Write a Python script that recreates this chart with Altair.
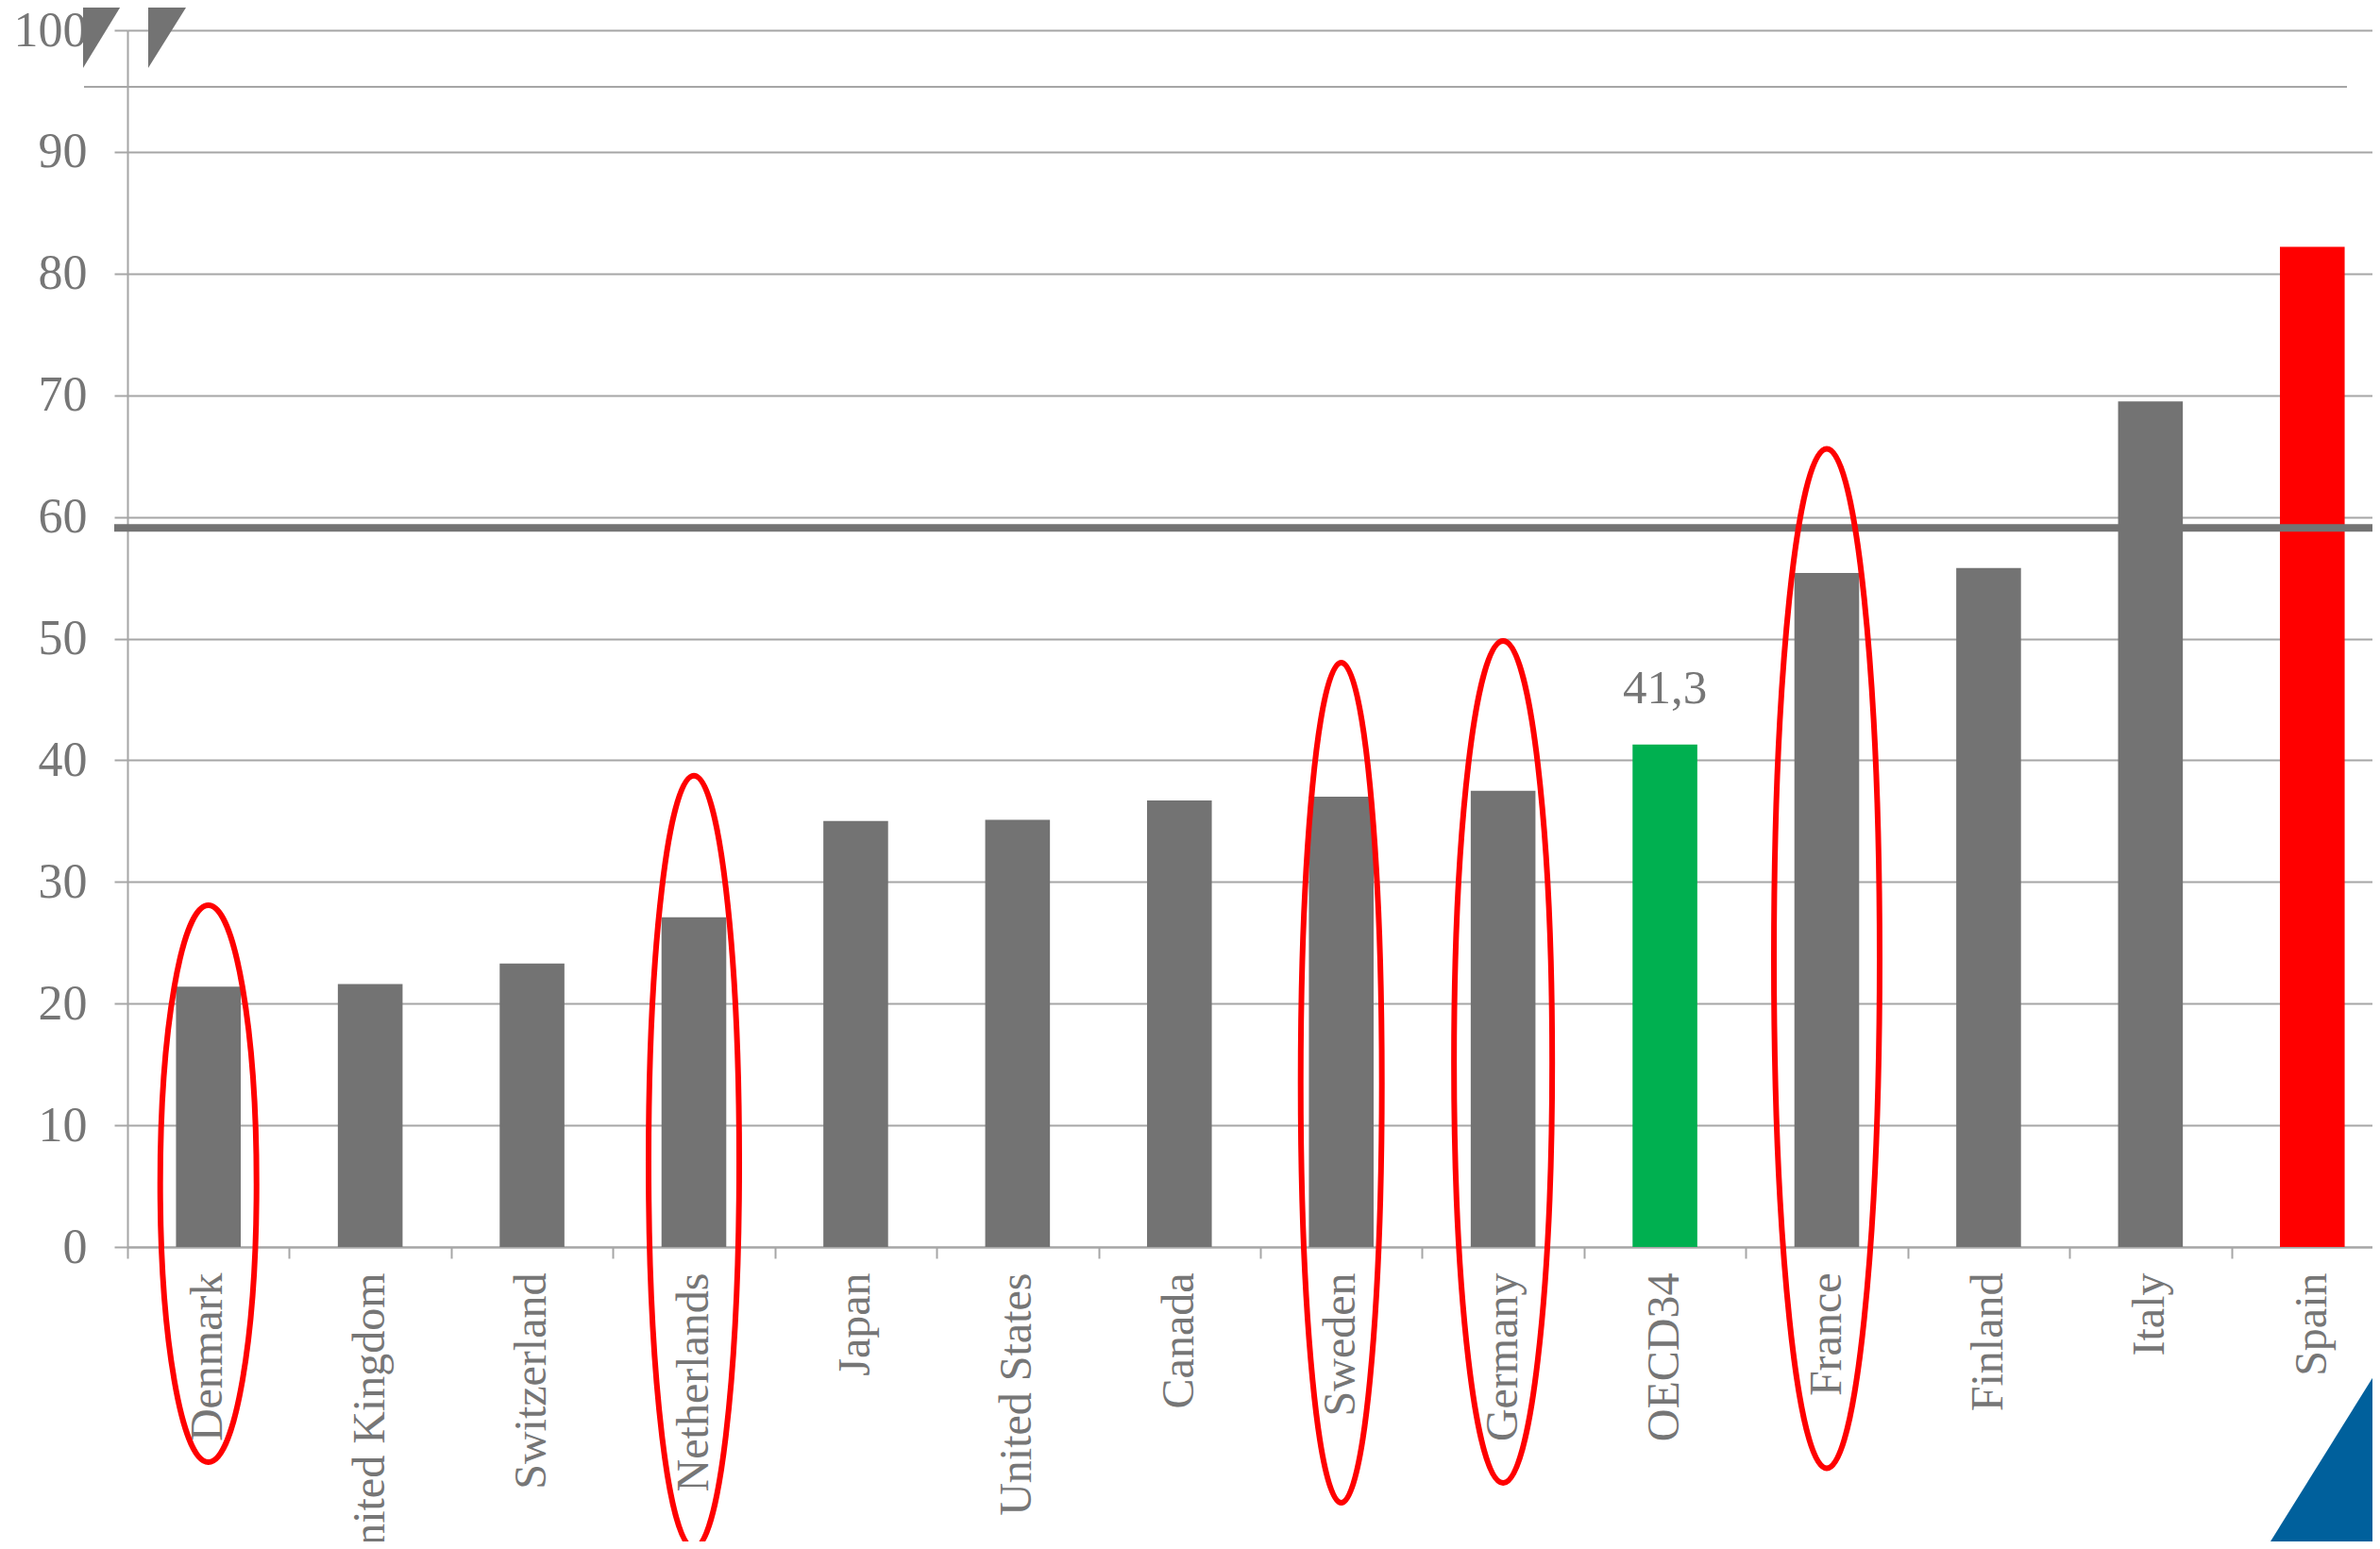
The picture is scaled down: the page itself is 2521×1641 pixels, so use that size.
import altair as alt
import pandas as pd

# ---------------- data ----------------
countries = ["Denmark", "United Kingdom", "Switzerland", "Netherlands", "Japan",
             "United States", "Canada", "Sweden", "Germany", "OECD34",
             "France", "Finland", "Italy", "Spain"]
values = [21.4, 21.6, 23.3, 27.1, 35.0, 35.1, 36.7, 37.0, 37.5, 41.3,
          55.4, 55.8, 69.5, 82.2]
groups = ["country"] * 9 + ["oecd"] + ["country"] * 3 + ["spain"]
value_labels = [""] * 9 + ["41,3"] + [""] * 4
y_ticks = [0, 10, 20, 30, 40, 50, 60, 70, 80, 90, 100]
ref_value = 59.1

# red ellipse annotations (country, centre value)
circled = ["Denmark", "Netherlands", "Sweden", "Germany", "France"]
circle_center = [5.2, 7.0, 13.5, 15.2, 23.7]

# ---------------- style ----------------
FONT = "Liberation Serif"
LABEL = "#767676"
GRID = "#A6A6A6"
BAR = "#737373"
GREEN = "#00B050"
RED = "#FF0000"
BLUE = "#00609C"
ellipse_rx = [51, 48, 43, 52, 56]
ellipse_ry = [295, 409, 445, 446, 540]

df = pd.DataFrame({"country": countries, "value": values,
                   "group": groups, "label": value_labels})

xscale = alt.Scale(domain=countries, range=[0, 2400], paddingInner=0, paddingOuter=0)
yscale = alt.Scale(domain=[0, 100], nice=False)

x_axis = alt.Axis(title=None, labelAngle=-90, labelFont=FONT, labelFontSize=48,
                  labelColor=LABEL, labelPadding=15, labelLimit=1000,
                  labelOverlap=False, labelBound=False, labelFlush=False,
                  tickBand="extent", tickSize=12, tickColor=GRID, tickWidth=2,
                  domainColor=GRID, domainWidth=2, grid=False)
y_axis = alt.Axis(title=None, values=y_ticks, labelFont=FONT, labelFontSize=52,
                  labelColor=LABEL, labelPadding=29, tickSize=14, tickColor=GRID,
                  tickWidth=2, domainColor=GRID, domainWidth=2, grid=True,
                  gridColor=GRID, gridWidth=2)


def xenc():
    return alt.X("country:N", sort=countries, scale=xscale, axis=x_axis)


def yenc(field):
    return alt.Y(field, scale=yscale, axis=y_axis)


bars = alt.Chart(df).mark_bar(width=alt.RelativeBandSize(0.4)).encode(
    x=xenc(),
    y=yenc("value:Q"),
    color=alt.Color("group:N", scale=alt.Scale(domain=["country", "oecd", "spain"],
                                               range=[BAR, GREEN, RED]), legend=None),
)

ref_line = alt.Chart(pd.DataFrame({"value": [ref_value]})).mark_rule(
    color=BAR, strokeWidth=8).encode(
    x=alt.value(-14), x2=alt.value(2400), y=yenc("value:Q"))

text = alt.Chart(df).transform_filter("datum.label != ''").mark_text(
    font=FONT, fontSize=51, color=LABEL, dy=-44, baseline="alphabetic", align="center"
).encode(
    x=xenc(),
    y=yenc("value:Q"),
    text="label:N",
)

k = 0.5523
ellipses = []
for c, cy, rx, ry in zip(circled, circle_center, ellipse_rx, ellipse_ry):
    a = rx / ry
    path = (f"M{a:.4f},0 C{a:.4f},{k} {a*k:.4f},1 0,1 "
            f"C{-a*k:.4f},1 {-a:.4f},{k} {-a:.4f},0 "
            f"C{-a:.4f},{-k} {-a*k:.4f},-1 0,-1 "
            f"C{a*k:.4f},-1 {a:.4f},{-k} {a:.4f},0 Z")
    e = alt.Chart(pd.DataFrame({"country": [c], "value": [cy]})).mark_point(
        shape=path, size=4 * ry * ry, filled=False, color=RED, strokeWidth=6, opacity=1
    ).encode(
        x=xenc(),
        y=yenc("value:Q"),
    )
    ellipses.append(e)

one = pd.DataFrame({"a": [0]})
top_line = alt.Chart(one).mark_rule(color=GRID, strokeWidth=2).encode(
    x=alt.value(-46), x2=alt.value(2351), y=alt.value(60))
slash1 = alt.Chart(one).mark_point(shape="M0,0 L44,0 L0,72 Z", size=4, filled=True,
                                   color=BAR, opacity=1, strokeWidth=0).encode(
    x=alt.value(-47), y=alt.value(-32))
slash2 = alt.Chart(one).mark_point(shape="M0,0 L45,0 L0,72 Z", size=4, filled=True,
                                   color=BAR, opacity=1, strokeWidth=0).encode(
    x=alt.value(22), y=alt.value(-32))
corner = alt.Chart(one).mark_point(shape="M0,0 L150,-240.5 L150,40 L0,40 Z", size=4,
                                   filled=True, color=BLUE, opacity=1, strokeWidth=0).encode(
    x=alt.value(2265), y=alt.value(1609))

chart = alt.layer(bars, ref_line, text, *ellipses, top_line, slash1, slash2, corner
).properties(
    width=2378, height=1289,
    autosize=alt.AutoSizeParams(type="none"),
    padding={"left": 127, "top": 24, "right": 0, "bottom": 312},
).configure_view(stroke=None).configure(background="white")

chart.save("out.html", embed_options={"renderer": "svg", "actions": False})
